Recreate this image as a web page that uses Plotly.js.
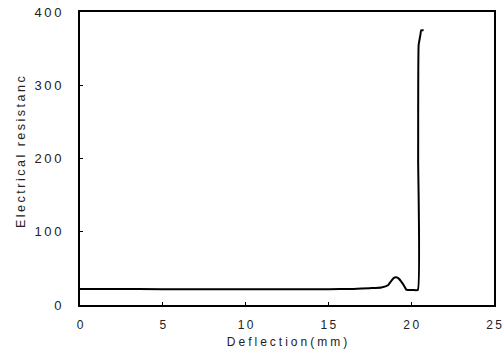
<!DOCTYPE html>
<html>
<head>
<meta charset="utf-8">
<script src="https://cdn.plot.ly/plotly-3.0.1.min.js"></script>
<style>
html,body{margin:0;padding:0;background:#fff;}
</style>
</head>
<body>
<div id="chart" style="width:504px;height:353px;"></div>
<script>
var deflection = [0, 2, 5, 8, 10, 12, 15, 16.5, 17.5, 18.2, 18.6, 18.8, 18.95, 19.1, 19.25, 19.4, 19.55, 19.7, 19.8, 20.1, 20.4, 20.42, 20.45, 20.55, 20.6, 20.75];
var resistance = [22, 22, 21.5, 21.5, 21.5, 21.5, 21.5, 22, 23, 24, 27, 33, 37, 38, 36, 32, 27, 21, 20.5, 20.5, 20.5, 200, 355, 368, 375, 375];
var xTicks = [0, 5, 10, 15, 20, 25];
var yTicks = [0, 100, 200, 300, 400];
var xTitle = 'Deflection(mm)';
var yTitle = 'Electrical resistanc';

function spaced(s, sp) { return s.split('').join(sp); }

var trace = {
  x: deflection, y: resistance, mode: 'lines', type: 'scatter',
  line: {color: '#000', width: 2, shape: 'spline', smoothing: 0.4},
  hoverinfo: 'skip'
};

var fam = 'Liberation Sans, Arial, sans-serif';
var font = {family: fam, size: 12, color: '#222'};
var yfont = {family: fam, size: 13, color: '#222'};
var ytfont = {family: fam, size: 12.5, color: '#222'};

var layout = {
  width: 504, height: 353,
  margin: {l: 80, r: 10, t: 12, b: 48},
  paper_bgcolor: '#fff', plot_bgcolor: '#fff',
  showlegend: false,
  font: font,
  xaxis: {
    range: [0, 25], tickvals: xTicks, ticktext: xTicks.map(function (v) { return spaced(String(v), '\u2009'); }),
    showgrid: false, zeroline: false, showline: true, mirror: true,
    linecolor: '#000', linewidth: 2, ticks: 'inside', ticklen: 3, tickcolor: '#000',
    tickfont: font, ticklabelstandoff: 8,
    title: {text: spaced(xTitle, '\u2005'), font: font, standoff: 6}
  },
  yaxis: {
    range: [0, 400], tickvals: yTicks, ticktext: yTicks.map(function (v) { return spaced(String(v), '\u2009'); }),
    showgrid: false, zeroline: false, showline: true, mirror: true,
    linecolor: '#000', linewidth: 2, ticks: 'inside', ticklen: 3, tickcolor: '#000',
    tickfont: yfont, ticklabelstandoff: 14
  },
  annotations: [{
    text: spaced(yTitle, '\u2009'), xref: 'paper', yref: 'paper',
    x: -59/414, y: (305 - 152) / 293, textangle: -90, showarrow: false,
    xanchor: 'center', yanchor: 'middle', font: ytfont
  }]
};

Plotly.newPlot('chart', [trace], layout, {displayModeBar: false, staticPlot: true});
</script>
</body>
</html>
